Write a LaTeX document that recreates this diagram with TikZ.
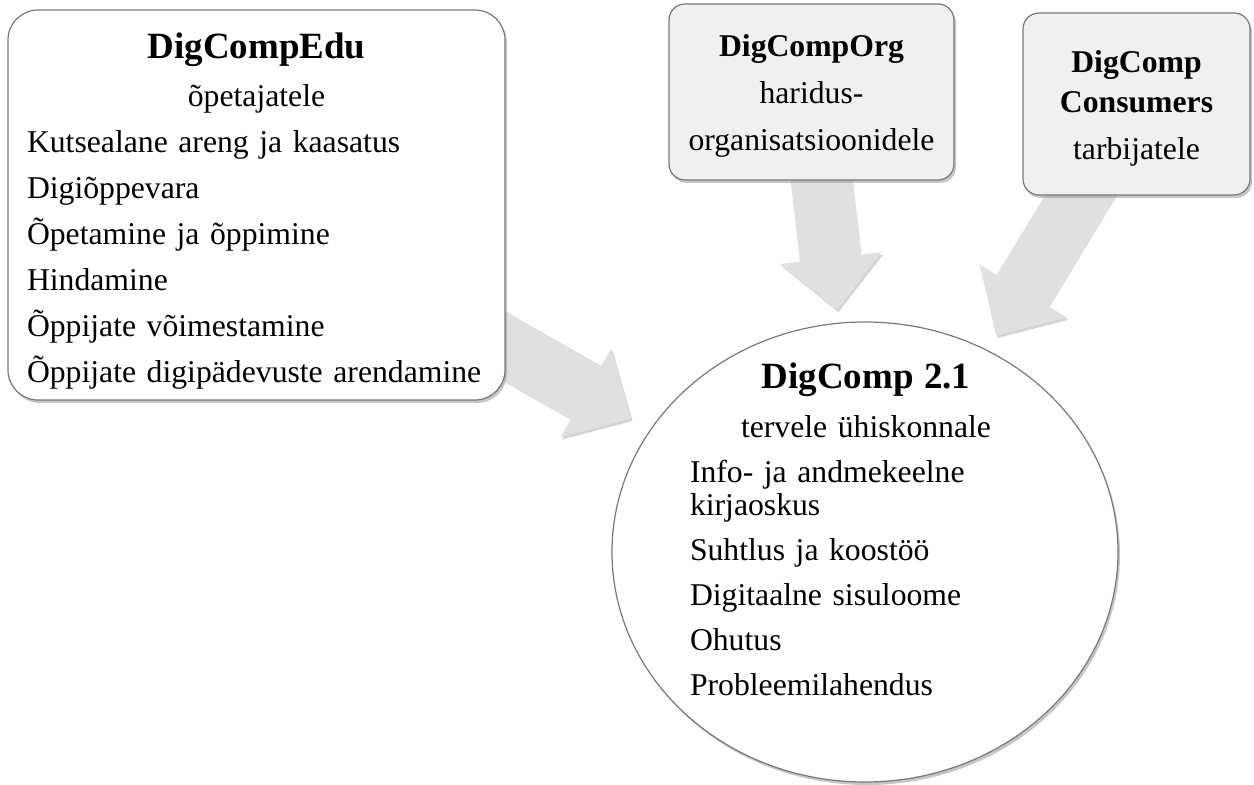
\documentclass[tikz,border=0pt]{standalone}
\usepackage{fontspec}
\setmainfont{Liberation Serif}
\usepackage{tikz}
\usetikzlibrary{arrows.meta,positioning,shapes.geometric,shadows,backgrounds}
\definecolor{cLine}{RGB}{120,120,120}
\definecolor{cFill}{RGB}{240,240,240}
\definecolor{cArrow}{RGB}{224,224,224}
\definecolor{cShadow}{RGB}{160,160,160}

\begin{document}
\begin{tikzpicture}[x=0.5pt,y=-0.5pt,
   txt/.style={font=\fontsize{15.85}{23}\selectfont},
   shd/.style={drop shadow={shadow xshift=1pt,shadow yshift=-1.5pt,fill=cShadow,opacity=0.6}},
   bx/.style={draw=cLine,line width=0.6pt,rounded corners=8pt,inner sep=0pt,shd},
   eduBox/.style={bx,txt,fill=white,rounded corners=15pt,text width=229.5pt,align=left,
     minimum height=195pt,inner xsep=9.5pt},
   smallBox/.style={bx,fill=cFill,align=center},
   dcEll/.style={ellipse,draw=cLine,line width=0.6pt,fill=white,inner sep=0pt,
     minimum width=253pt,minimum height=230pt,shd},
   arw/.style={line width=31pt,cArrow,-{Triangle[length=26pt,width=51pt,line width=0pt]},
     preaction={draw=cShadow,opacity=0.45,transform canvas={shift={(0.8pt,-1.2pt)}}}}]
  \useasboundingbox (0,0) rectangle (1254,785);
  % boxes
  \node[eduBox] (edu) at (256.5,205) {%
    {\centering\fontsize{18.5}{23}\selectfont\bfseries\rule{0pt}{18.6pt}DigCompEdu\par}\vspace{1pt}
    {\centering õpetajatele\par}
    Kutsealane areng ja kaasatus\par
    Digiõppevara\par
    Õpetamine ja õppimine\par
    Hindamine\par
    Õppijate võimestamine\par
    Õppijate digipädevuste arendamine};
  \node[smallBox,minimum width=142.5pt,minimum height=88pt,
    font=\fontsize{15.85}{23.5}\selectfont] (org) at (811.5,92)
    {\rule{0pt}{15.4pt}\textbf{DigCompOrg}\\haridus-\\organisatsioonidele};
  \node[smallBox,minimum width=113.5pt,minimum height=91pt,
    font=\fontsize{15.85}{20}\selectfont] (con) at (1136.5,104)
    {\rule{0pt}{15pt}\textbf{DigComp}\\\textbf{Consumers}\\[3.5pt]tarbijatele};
  % DigComp 2.1
  \node[dcEll] (dc) at (865,552) {};
  \node[text width=176pt,align=left,anchor=north,inner sep=0pt,
    font=\fontsize{15.85}{16.5}\selectfont] (dcl) at (866,362) {%
    \setlength{\parskip}{6pt}%
    {\centering\fontsize{18.5}{22}\selectfont\bfseries DigComp 2.1\par}\vspace{2pt}
    {\centering tervele ühiskonnale\par}
    Info- ja andmekeelne\\kirjaoskus\par
    Suhtlus ja koostöö\par
    Digitaalne sisuloome\par
    Ohutus\par
    Probleemilahendus};
  % arrows
  \begin{scope}[on background layer]
    \draw[arw,shorten >=11pt] (edu.center) -- (dc);
    \draw[arw,shorten >=6.5pt] (org.center) -- (dc);
    \draw[arw,shorten >=8.5pt] (con.center) -- (dc);
  \end{scope}
\end{tikzpicture}
\end{document}
